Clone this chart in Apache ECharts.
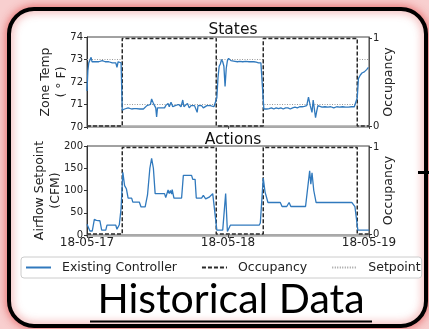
<!DOCTYPE html>
<html><head><meta charset="utf-8">
<script src="https://cdn.jsdelivr.net/npm/echarts@6/dist/echarts.min.js"></script>
<style>html,body{margin:0;padding:0;background:#f8cfcf;}#c{width:429px;height:329px;}</style>
</head><body><div id="c"></div>
<script>
// ---- data (hours since 18-05-17 00:00) ----
const dateLabels = ['18-05-17', '18-05-18', '18-05-19'];
const tempTicks = [70, 71, 72, 73, 74];
const airTicks = [0, 50, 100, 150, 200];

const tempHours = [0.0,0.15,0.3,0.5,0.7,0.85,1.0,1.3,1.6,2.0,2.3,2.6,2.9,3.1,3.4,3.7,4.0,4.3,4.6,4.9,5.1,5.3,5.6,5.8,
  6.0,6.2,6.4,6.7,7.0,7.3,7.6,8.0,8.4,8.7,9.0,9.3,9.6,9.9,10.2,10.5,10.8,11.0,11.1,11.3,11.5,11.7,11.85,12.0,12.3,12.6,12.9,13.2,13.4,13.6,13.8,14.0,14.3,
  14.6,15.0,15.3,15.6,16.0,16.3,16.5,16.8,17.1,17.4,17.7,18.0,18.3,18.6,18.75,18.9,19.2,19.5,19.8,20.1,20.4,20.7,21.0,21.3,21.6,21.9,
  22.1,22.3,22.5,22.7,22.9,23.1,23.3,23.5,23.7,23.9,24.1,24.3,24.5,24.8,25.2,25.6,26.0,26.5,27.0,27.3,27.6,28.0,28.4,28.8,29.2,29.6,29.9,
  30.1,30.3,30.6,31.0,31.4,31.8,32.2,32.6,33.0,33.4,33.8,34.2,34.6,35.0,35.4,35.8,36.2,36.6,37.0,37.4,37.7,38.0,38.3,38.5,38.7,38.9,39.1,39.3,39.6,
  40.0,40.5,41.0,41.5,42.0,42.5,43.0,43.5,44.0,44.5,45.0,45.5,45.8,46.0,46.2,46.5,46.8,47.2,47.6,47.9];
const tempValues = [71.6,72.5,72.85,72.9,73.1,72.9,72.85,72.9,72.85,72.9,72.85,72.95,73.0,72.9,72.95,72.9,72.9,72.85,72.9,72.85,72.65,72.9,72.95,72.85,
  70.75,70.7,70.8,70.75,70.85,70.85,70.8,70.82,70.82,70.85,70.8,70.85,70.8,70.85,70.95,70.9,71.0,71.25,71.3,71.05,70.95,70.85,70.45,70.85,70.9,70.85,70.9,70.85,70.95,70.9,71.05,70.9,71.1,
  70.9,70.95,70.9,71.0,70.9,71.2,70.9,70.95,71.05,70.85,70.95,70.9,70.95,70.9,70.65,70.95,70.9,70.95,70.85,70.9,70.95,70.9,70.95,70.9,70.9,70.92,
  71.3,72.2,72.7,72.8,73.0,72.9,72.7,71.8,72.6,72.95,73.05,73.1,72.95,72.9,72.92,72.9,72.92,72.9,72.92,72.88,72.9,72.9,72.9,72.88,72.85,72.85,72.8,
  70.8,70.85,70.8,70.82,70.85,70.8,70.85,70.82,70.85,70.8,70.85,70.85,70.8,70.85,70.88,70.85,70.9,70.9,70.92,70.95,71.33,70.95,70.65,71.2,70.8,70.42,70.7,70.95,70.9,
  70.88,70.9,70.88,70.9,70.85,70.9,70.88,70.9,70.88,70.88,70.9,70.9,70.95,71.3,72.15,72.3,72.4,72.45,72.55,72.65];

const airHours = [0.0,0.1,0.5,0.9,1.25,1.6,2.2,2.5,3.2,3.4,4.9,5.1,5.5,5.8,6.1,6.4,6.7,7.0,7.6,7.8,8.9,9.2,9.9,10.3,10.7,11.0,11.3,11.6,
  13.2,13.4,13.8,14.0,14.2,14.4,14.5,14.8,16.1,16.4,17.8,18.0,18.4,18.6,19.5,19.8,20.2,20.8,21.4,21.7,22.1,23.1,23.6,23.9,24.4,29.3,29.5,
  30.0,30.3,30.8,32.9,33.2,34.0,34.4,34.7,37.2,37.9,38.1,38.3,38.6,39.0,45.1,45.6,46.1,48.0];
const airValues = [24,20,9,9,35,33,32,11,11,22,22,13,23,60,141,111,104,83,83,74,74,63,63,90,150,172,150,93,
  93,84,101,93,100,92,102,83,83,134,134,125,125,83,83,89,81,85,93,92,11,11,93,8,22,22,27,
  128,97,73,73,64,64,73,64,64,144,114,140,100,73,73,64,11,11];

const occHours = [0, 6, 22, 30, 46, 48];
const occValues = [0, 1, 0, 1, 0, 0];
const setpointValues = [73, 71, 73, 71, 73, 73];

const zip = (a, b) => a.map((v, i) => [v, b[i]]);

const C_LINE = '#3079bd';
const font = 'DejaVu Sans';

const chart = echarts.init(document.getElementById('c'), null, {renderer: 'canvas'});

function xAx(grid, labels) {
  return {
    gridIndex: grid, type: 'value', min: 0, max: 48, interval: 24,
    axisLine: {show: true, lineStyle: {color: '#aaaaaa', width: 2.5}},
    axisTick: {show: true, length: 3, lineStyle: {color: '#444'}},
    splitLine: {show: false},
    axisLabel: {show: labels, formatter: v => dateLabels[Math.round(v / 24)], fontFamily: font, fontSize: 12, color: '#222', margin: 2,
      showMinLabel: true, showMaxLabel: true}
  };
}
function yLeft(grid, min, max, interval, name, gap) {
  return {
    gridIndex: grid, type: 'value', position: 'left', min, max, interval,
    axisLine: {show: true, lineStyle: {color: '#333', width: 1}},
    axisTick: {show: true, length: 3, lineStyle: {color: '#333'}},
    splitLine: {show: false},
    axisLabel: {fontFamily: font, fontSize: 10, color: '#222', margin: 4},
    name, nameLocation: 'middle', nameRotate: 90, nameGap: gap, nameMoveOverlap: false,
    nameTextStyle: {fontFamily: font, fontSize: 12.5, color: '#222', lineHeight: 16.5}
  };
}
function yRight(grid) {
  return {
    gridIndex: grid, type: 'value', position: 'right', min: -0.012, max: 1.016,
    axisLine: {show: true, lineStyle: {color: '#555', width: 1}},
    axisTick: {show: true, length: 3, customValues: [0, 1], lineStyle: {color: '#333'}},
    splitLine: {show: false},
    axisLabel: {customValues: [0, 1], fontFamily: font, fontSize: 10, color: '#222', margin: 4},
    name: 'Occupancy', nameLocation: 'middle', nameRotate: 90, nameGap: 13, nameMoveOverlap: false,
    nameTextStyle: {fontFamily: font, fontSize: 12.5, color: '#222'}
  };
}

const occStyle = {color: '#2a2a2a', width: 1.5, type: [4, 2]};
const spStyle = {color: '#9a9a9a', width: 1, type: [1, 1.5]};

const option = {
  backgroundColor: '#f8cfcf',
  animation: false,
  title: [
    {text: 'States', left: 228, top: 17, textAlign: 'center', textStyle: {fontFamily: font, fontSize: 15.5, fontWeight: 'normal', color: '#111'}},
    {text: 'Actions', left: 228, top: 127, textAlign: 'center', textStyle: {fontFamily: font, fontSize: 15.5, fontWeight: 'normal', color: '#111'}}
  ],
  legend: {
    data: ['Existing Controller', 'Occupancy', 'Setpoint'],
    left: 21, top: 257, padding: [4, 1, 4, 4],
    itemWidth: 25, itemHeight: 12, itemGap: 24,
    itemStyle: {opacity: 0, borderWidth: 0, color: 'rgba(0,0,0,0)'},
    borderColor: '#cccccc', borderWidth: 1, borderRadius: 3, backgroundColor: '#ffffff',
    textStyle: {fontFamily: font, fontSize: 12.5, color: '#222', padding: [0, 0, 0, 6]}
  },
  grid: [
    {left: 87, top: 37, width: 282, height: 90, show: true, borderColor: '#444', borderWidth: 1, backgroundColor: '#fff'},
    {left: 87, top: 146, width: 282, height: 89, show: true, borderColor: '#444', borderWidth: 1, backgroundColor: '#fff'}
  ],
  xAxis: [xAx(0, false), xAx(1, true)],
  yAxis: [
    yLeft(0, 70, 74, 1, 'Zone Temp\n( ° F)', 17),
    yRight(0),
    yLeft(1, 0, 200, 50, 'Airflow Setpoint\n(CFM)', 23),
    yRight(1)
  ],
  graphic: [
    {type: 'rect', z: -10, shape: {x: 9, y: 9, width: 417, height: 317, r: 25},
      style: {fill: '#ffffff', stroke: '#000000', lineWidth: 4, shadowBlur: 10, shadowColor: 'rgba(225,70,70,0.75)'}},
    {type: 'rect', z: 10, shape: {x: 418, y: 171, width: 11, height: 3}, style: {fill: '#000'}},
    {type: 'text', z: 10, style: {x: 231, y: 300, text: 'Historical Data', font: '41px Lato', fill: '#000', textAlign: 'center', textVerticalAlign: 'middle'}},
    {type: 'rect', z: 10, shape: {x: 90, y: 320.5, width: 282, height: 2}, style: {fill: '#000'}}
  ],
  series: [
    {name: 'Setpoint', type: 'line', xAxisIndex: 0, yAxisIndex: 0, step: 'end', symbol: 'none',
      data: zip(occHours, setpointValues), lineStyle: spStyle, itemStyle: {color: '#9a9a9a'}, z: 1},
    {name: 'Occupancy', type: 'line', xAxisIndex: 0, yAxisIndex: 1, step: 'end', symbol: 'none',
      data: zip(occHours, occValues), lineStyle: occStyle, itemStyle: {color: '#2a2a2a'}, z: 2},
    {name: 'Existing Controller', type: 'line', xAxisIndex: 0, yAxisIndex: 0, symbol: 'none',
      data: zip(tempHours, tempValues), lineStyle: {color: C_LINE, width: 1.3}, itemStyle: {color: C_LINE}, z: 3},
    {name: 'Occupancy', type: 'line', xAxisIndex: 1, yAxisIndex: 3, step: 'end', symbol: 'none',
      data: zip(occHours, occValues), lineStyle: occStyle, itemStyle: {color: '#2a2a2a'}, z: 2},
    {name: 'Existing Controller', type: 'line', xAxisIndex: 1, yAxisIndex: 2, symbol: 'none',
      data: zip(airHours, airValues), lineStyle: {color: C_LINE, width: 1.3}, itemStyle: {color: C_LINE}, z: 3}
  ]
};
chart.setOption(option);
</script>
</body></html>
